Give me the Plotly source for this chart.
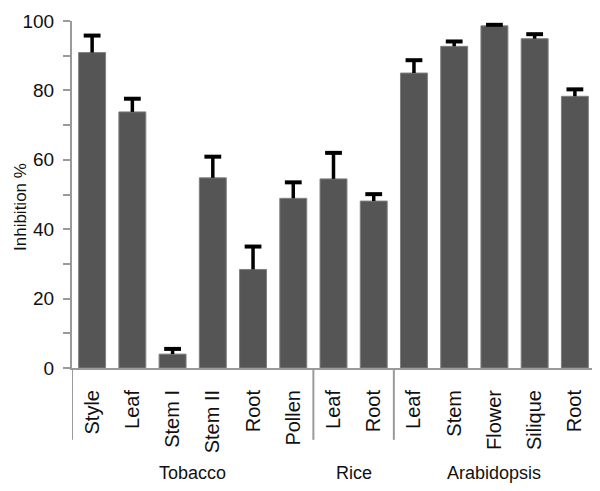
import plotly.graph_objects as go

groups = ["Tobacco", "Rice", "Arabidopsis"]
tissues = [
    ["Style", "Leaf", "Stem I", "Stem II", "Root", "Pollen"],
    ["Leaf", "Root"],
    ["Leaf", "Stem", "Flower", "Silique", "Root"],
]
values = [
    [90.9, 73.8, 4.0, 54.8, 28.4, 48.9],
    [54.5, 48.1],
    [85.0, 92.7, 98.6, 94.9, 78.3],
]
errors = [
    [4.9, 3.8, 1.5, 6.1, 6.6, 4.6],
    [7.5, 2.0],
    [3.7, 1.4, 0.3, 1.3, 2.0],
]

labels = [t for g in tissues for t in g]
vals = [v for g in values for v in g]
errs = [e for g in errors for e in g]
xs = list(range(len(labels)))
tops = [v + e for v, e in zip(vals, errs)]

FONT = "Liberation Sans, Arial, Helvetica, sans-serif"
AX = "#9a9a9a"
TXT = "#111111"

fig = go.Figure()
fig.add_trace(go.Bar(
    x=xs, y=vals,
    marker=dict(color="#555555", line=dict(color="#808080", width=1)),
    width=0.67, hoverinfo="skip",
))
# error stems (upper only, no caps)
fig.add_trace(go.Scatter(
    x=xs, y=vals, mode="markers", marker=dict(size=0.1, color="rgba(0,0,0,0)"),
    error_y=dict(type="data", array=errs, arrayminus=[0] * len(errs), symmetric=False,
                 color="black", thickness=3.5, width=0),
))
# error caps
fig.add_trace(go.Scatter(
    x=xs, y=tops, mode="markers",
    marker=dict(symbol="line-ew", size=12, line=dict(color="black", width=4)),
))

shapes = []
annotations = []
start = 0
bounds = [-0.5]
for g, t in zip(groups, tissues):
    end = start + len(t)
    bounds.append(end - 0.5)
    annotations.append(dict(x=(start + end - 1) / 2, y=-0.3026, xref="x", yref="paper",
                            text=g, showarrow=False, font=dict(size=18, family=FONT, color=TXT),
                            yanchor="middle", xanchor="center"))
    start = end
for b in bounds:
    shapes.append(dict(type="line", xref="x", yref="paper", x0=b, x1=b, y0=0, y1=-0.207,
                       line=dict(color=AX, width=2)))

annotations.append(dict(x=-(72 - 20) / 523, y=(368 - 207) / 347, xref="paper", yref="paper",
                        text="Inhibition %", textangle=-90, showarrow=False,
                        font=dict(size=17, family=FONT, color=TXT),
                        xanchor="center", yanchor="middle"))

# page body has an 8px margin: size/margins are compensated so the plot lands at the reference spot
fig.update_layout(
    width=592, height=483,
    margin=dict(l=64, r=5, t=13, b=123, autoexpand=False),
    plot_bgcolor="white", paper_bgcolor="white",
    showlegend=False,
    shapes=shapes, annotations=annotations,
    font=dict(family=FONT, color=TXT),
    xaxis=dict(range=[-0.5, len(labels) - 0.5], tickvals=xs, ticktext=labels,
               tickangle=-90, showline=True, linecolor=AX, linewidth=2,
               ticks="", showgrid=False, zeroline=False, ticklabelstandoff=12,
               automargin=False,
               tickfont=dict(size=20, family=FONT, color=TXT)),
    yaxis=dict(range=[0, 100], tickvals=[0, 20, 40, 60, 80, 100], showline=True,
               linecolor=AX, linewidth=2, ticks="outside", ticklen=7, tickwidth=2,
               tickcolor=AX, showgrid=False, zeroline=False, automargin=False,
               ticklabelstandoff=5,
               minor=dict(ticks="outside", dtick=10, tick0=0, ticklen=7, tickwidth=2, tickcolor=AX,
                          showgrid=False),
               tickfont=dict(size=19, family=FONT, color=TXT)),
)

fig.write_html("out.html")
